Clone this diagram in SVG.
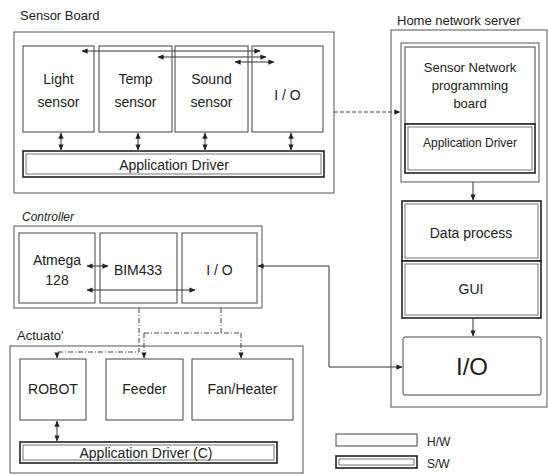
<svg xmlns="http://www.w3.org/2000/svg" width="548" height="475" viewBox="0 0 548 475">
<defs>
<style>
text{font-family:"Liberation Sans",Arial,sans-serif;fill:#222;}
.lbl{font-size:13px;}
.t{font-size:14px;text-anchor:middle;}
.s{font-size:13px;text-anchor:middle;}
.box{fill:#fff;stroke:#444;stroke-width:1;}
.grp{fill:none;stroke:#555;stroke-width:1;}
.swo{fill:#fff;stroke:#222;stroke-width:1.6;}
.swi{fill:none;stroke:#555;stroke-width:0.8;}
.c{fill:none;stroke:#333;stroke-width:1;}
.d{fill:none;stroke:#444;stroke-width:1;stroke-dasharray:4 2;}
.dd{fill:none;stroke:#444;stroke-width:1;stroke-dasharray:5 2 1 2;}
</style>
<marker id="ah" viewBox="0 0 8 8" refX="7.5" refY="4" markerWidth="6" markerHeight="6" markerUnits="userSpaceOnUse" orient="auto-start-reverse">
<path d="M0,0.5 L8,4 L0,7.5 Z" fill="#222"/>
</marker>
</defs>
<rect width="548" height="475" fill="#fff"/>

<g id="sensor-board">
<text class="lbl" x="20" y="20">Sensor Board</text>
<rect class="grp" x="14" y="32" width="320" height="161"/>
<g id="light-sensor"><rect class="box" x="23" y="46" width="71" height="86"/><text class="t" x="58.5" y="84">Light</text><text class="t" x="58.5" y="107">sensor</text></g>
<g id="temp-sensor"><rect class="box" x="99" y="46" width="73" height="86"/><text class="t" x="135.5" y="84">Temp</text><text class="t" x="135.5" y="107">sensor</text></g>
<g id="sound-sensor"><rect class="box" x="175" y="46" width="73" height="86"/><text class="t" x="211.5" y="84">Sound</text><text class="t" x="211.5" y="107">sensor</text></g>
<g id="sensor-io"><rect class="box" x="252" y="46" width="71" height="86"/><text class="t" x="287.5" y="100">I / O</text></g>
<g id="sensor-app-driver"><rect class="swo" x="23" y="151" width="301" height="26"/><rect class="swi" x="26" y="154" width="295" height="20"/><text class="t" x="174" y="170">Application Driver</text></g>
</g>

<g id="server">
<text class="lbl" x="397" y="25">Home network server</text>
<rect class="grp" x="391" y="30" width="156" height="377"/>
<rect class="grp" x="401" y="43" width="138" height="139"/>
<g id="snpb"><rect class="box" x="405" y="47" width="130" height="77"/><text class="s" x="470" y="72">Sensor Network</text><text class="s" x="470" y="90">programming</text><text class="s" x="470" y="108">board</text></g>
<g id="server-app-driver"><rect class="swo" x="405" y="124" width="130" height="49"/><rect class="swi" x="408" y="127" width="124" height="43"/><text class="s" x="470" y="147" style="font-size:12px">Application Driver</text></g>
<g id="data-process"><rect class="swo" x="402" y="201" width="139" height="60"/><rect class="swi" x="405" y="204" width="133" height="54"/><text class="t" x="471" y="238">Data process</text></g>
<g id="gui"><rect class="swo" x="402" y="261" width="139" height="57"/><rect class="swi" x="405" y="264" width="133" height="51"/><text class="t" x="471" y="294">GUI</text></g>
<g id="server-io"><rect class="box" x="403" y="337" width="138" height="58" rx="2"/><text x="472" y="375" style="font-size:24px;text-anchor:middle">I/O</text></g>
</g>

<g id="controller">
<text class="lbl" x="22" y="221" style="font-size:12px;font-style:italic">Controller</text>
<rect class="grp" x="14" y="226" width="248" height="82"/>
<g id="atmega"><rect class="box" x="19" y="233" width="76" height="70"/><text class="t" x="57" y="265">Atmega</text><text class="t" x="57" y="285">128</text></g>
<g id="bim433"><rect class="box" x="100" y="233" width="77" height="70"/><text class="t" x="138" y="275">BIM433</text></g>
<g id="ctrl-io"><rect class="box" x="182" y="233" width="75" height="70"/><text class="t" x="219.5" y="275">I / O</text></g>
</g>

<g id="actuator">
<text class="lbl" x="17" y="340">Actuato'</text>
<rect class="grp" x="10" y="346" width="293" height="127"/>
<g id="robot"><rect class="box" x="20" y="359" width="66" height="61"/><text class="t" x="53" y="394">ROBOT</text></g>
<g id="feeder"><rect class="box" x="106" y="359" width="77" height="61"/><text class="t" x="144.5" y="394">Feeder</text></g>
<g id="fan-heater"><rect class="box" x="192" y="359" width="101" height="61"/><text class="t" x="242.5" y="394">Fan/Heater</text></g>
<g id="act-app-driver"><rect class="swo" x="20" y="442" width="257" height="21"/><rect class="swi" x="23" y="445" width="251" height="15"/><text class="t" x="146" y="458">Application Driver (C)</text></g>
</g>

<g id="legend">
<rect class="box" x="336" y="434" width="81" height="12"/><text x="427" y="446" style="font-size:12px">H/W</text>
<rect class="swo" x="336" y="456" width="81" height="12"/><rect class="swi" x="339" y="459" width="75" height="6"/><text x="427" y="468" style="font-size:12px">S/W</text>
</g>

<g id="connectors">
<path class="c" d="M61,133 V150" marker-start="url(#ah)" marker-end="url(#ah)"/>
<path class="c" d="M138,133 V150" marker-start="url(#ah)" marker-end="url(#ah)"/>
<path class="c" d="M205,133 V150" marker-start="url(#ah)" marker-end="url(#ah)"/>
<path class="c" d="M291,133 V150" marker-start="url(#ah)" marker-end="url(#ah)"/>
<path class="c" d="M82,51 H260" marker-start="url(#ah)" marker-end="url(#ah)"/>
<path class="c" d="M158,57 H266" marker-start="url(#ah)" marker-end="url(#ah)"/>
<path class="c" d="M235,62 H274" marker-start="url(#ah)" marker-end="url(#ah)"/>
<path class="d" d="M334,112 H400" marker-end="url(#ah)"/>
<path class="c" d="M473,182 V200" marker-end="url(#ah)"/>
<path class="c" d="M473,318 V336" marker-end="url(#ah)"/>
<path class="c" d="M87,266 H108" marker-start="url(#ah)" marker-end="url(#ah)"/>
<path class="c" d="M87,290 H195" marker-start="url(#ah)" marker-end="url(#ah)"/>
<path class="c" d="M258,266 H329 V367 H402" marker-start="url(#ah)" marker-end="url(#ah)"/>
<path class="dd" d="M139,308 V352 H57 V358" marker-end="url(#ah)"/>
<path class="dd" d="M221,308 V333"/>
<path class="dd" d="M144,333 H241"/>
<path class="dd" d="M144,333 V358" marker-end="url(#ah)"/>
<path class="dd" d="M241,333 V358" marker-end="url(#ah)"/>
<path class="c" d="M57,421 V441" marker-start="url(#ah)" marker-end="url(#ah)"/>
</g>
</svg>
